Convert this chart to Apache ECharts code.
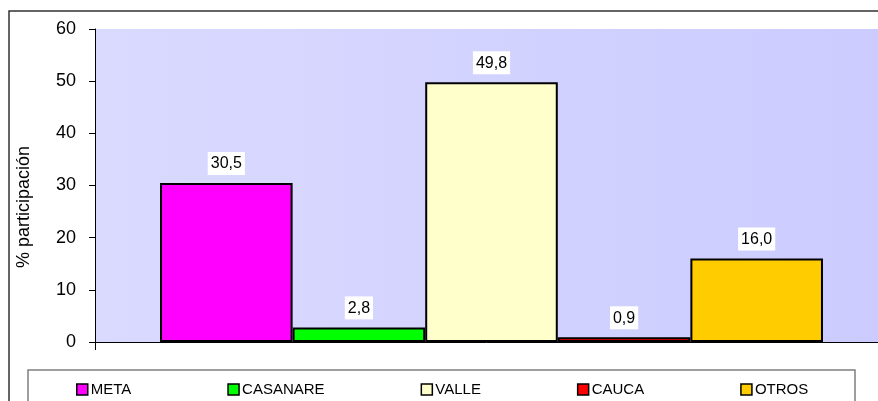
<!DOCTYPE html>
<html>
<head>
<meta charset="utf-8">
<script src="https://cdn.jsdelivr.net/npm/echarts@6/dist/echarts.min.js"></script>
<style>
  html, body { margin: 0; padding: 0; background: #fff; }
  #chart { width: 878px; height: 401px; }
</style>
</head>
<body>
<div id="chart"></div>
<script>
const regions = ['META', 'CASANARE', 'VALLE', 'CAUCA', 'OTROS']
const shares = [30.5, 2.8, 49.8, 0.9, 16.0]
const barColors = ['#FF00FF', '#00FF00', '#FFFFCC', '#FF0000', '#FFCC00']
const yTicks = { min: 0, max: 60, step: 10 }
const yTitle = '% participación'

const font = "Arial, 'Liberation Sans', sans-serif"

const chart = echarts.init(document.getElementById('chart'))

const series = regions.map((name, i) => ({
  name,
  type: 'bar',
  data: [shares[i]],
  barGap: '0%',
  barCategoryGap: '16.4%',
  itemStyle: {
    color: barColors[i],
    borderColor: '#000',
    borderWidth: 2
  },
  label: {
    show: true,
    position: 'top',
    distance: 8,
    color: '#000',
    fontFamily: font,
    fontSize: 16,
    backgroundColor: '#fff',
    padding: [4, 3, 3, 3],
    formatter: p => p.value.toFixed(1).replace('.', ',')
  },
  emphasis: { disabled: true }
}))

chart.setOption({
  animation: false,
  backgroundColor: '#fff',
  grid: {
    left: 95,
    top: 29,
    width: 793,
    bottom: 59,
    outerBoundsMode: 'none',
    show: true,
    borderWidth: 0,
    backgroundColor: new echarts.graphic.LinearGradient(0, 0, 1, 0, [
      { offset: 0, color: '#DADAFF' },
      { offset: 1, color: '#CBCBFF' }
    ])
  },
  legend: {
    data: regions,
    left: 76,
    top: 382,
    padding: 0,
    itemGap: 96,
    itemWidth: 11,
    itemHeight: 11,
    icon: 'rect',
    itemStyle: { borderColor: '#000', borderWidth: 1.5 },
    textStyle: { color: '#000', fontFamily: font, fontSize: 15, padding: [0, 0, 0, -2] }
  },
  xAxis: {
    type: 'category',
    data: [''],
    axisLine: { show: true, lineStyle: { color: '#000', width: 1 } },
    axisTick: { show: true, length: 8, lineStyle: { color: '#000' } },
    axisLabel: { show: false },
    splitLine: { show: false }
  },
  yAxis: {
    type: 'value',
    min: yTicks.min,
    max: yTicks.max,
    interval: yTicks.step,
    name: yTitle,
    nameLocation: 'middle',
    nameGap: 62,
    nameTextStyle: {
      color: '#000',
      fontFamily: font,
      fontSize: 18,
      padding: [0, 43, 0, 0]
    },
    axisLine: { show: true, lineStyle: { color: '#000', width: 1 } },
    axisTick: { show: true, length: 6, lineStyle: { color: '#000' } },
    axisLabel: { color: '#000', fontFamily: font, fontSize: 18, margin: 19 },
    splitLine: { show: false }
  },
  graphic: [
    {
      type: 'rect',
      silent: true,
      shape: { x: 9, y: 11, width: 900, height: 420 },
      style: { fill: null, stroke: '#333', lineWidth: 1.5 }
    },
    {
      type: 'rect',
      silent: true,
      shape: { x: 28, y: 370, width: 827, height: 60 },
      style: { fill: null, stroke: '#7f7f7f', lineWidth: 1.5 }
    }
  ],
  series
})
</script>
</body>
</html>
